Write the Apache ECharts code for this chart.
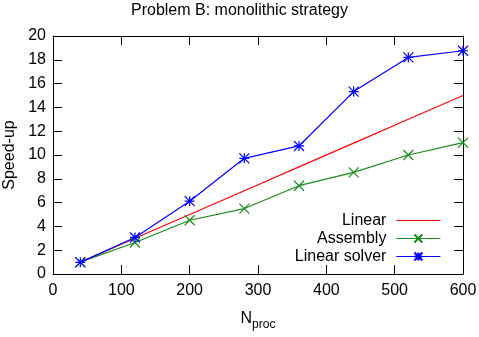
<!DOCTYPE html>
<html><head><meta charset="utf-8">
<script src="https://cdn.jsdelivr.net/npm/echarts@6/dist/echarts.min.js"></script>
<style>html,body{margin:0;padding:0;background:#fff}#c{width:479px;height:337px}</style>
</head><body><div id="c"></div>
<script>
const procs = [40, 120, 200, 280, 360, 440, 520, 600];
const linear = [1, 3, 5, 7, 9, 11, 13, 15];
const assembly = [1.0, 2.65, 4.52, 5.5, 7.42, 8.54, 10.0, 11.04];
const linearSolver = [0.98, 3.07, 6.12, 9.72, 10.76, 15.33, 18.2, 18.76];
const xTicks = [0, 100, 200, 300, 400, 500, 600];
const yTicks = [0, 2, 4, 6, 8, 10, 12, 14, 16, 18, 20];

const FONT = 'Liberation Sans, Arial, sans-serif';
const FS = 16;
const crossPath = 'path://M0,0L10,10M10,0L0,10';
const starPath = 'path://M0,0L10,10M10,0L0,10M5,0L5,10M0,5L10,5';
const pair = (xs, ys) => xs.map((x, i) => [x, ys[i]]);

const chart = echarts.init(document.getElementById('c'), null, {renderer: 'canvas'});
const axisCommon = {
  axisLine: {show: true, onZero: false, lineStyle: {color: '#000', width: 1}},
  axisTick: {show: true, inside: true, length: 9, lineStyle: {color: '#000', width: 1}},
  splitLine: {show: false}
};
chart.setOption({
  animation: false,
  backgroundColor: '#fff',
  title: {
    text: 'Problem B: monolithic strategy', left: 'center', top: -2,
    textStyle: {fontFamily: FONT, fontSize: FS, fontWeight: 'normal', color: '#000'}
  },
  grid: {left: 53, right: 16, top: 36, bottom: 63, show: false, containLabel: false, outerBoundsMode: 'none'},
  legend: {
    orient: 'vertical', right: 33, top: 207, align: 'right',
    itemWidth: 44, itemHeight: 10, itemGap: 1,
    lineStyle: {width: 1.2},
    textStyle: {fontFamily: FONT, fontSize: FS, color: '#000', padding: [0, 5, 0, 0], lineHeight: 17},
    data: [
      {name: 'Linear', icon: 'path://M0,0h44v1.2h-44z'},
      'Assembly', 'Linear solver'
    ]
  },
  xAxis: [
    Object.assign({
      type: 'value', min: xTicks[0], max: xTicks[xTicks.length - 1], interval: 100, position: 'bottom',
      axisLabel: {fontFamily: FONT, fontSize: FS, color: '#000', margin: 9},
      name: '{n|N}{s|proc}', nameLocation: 'middle', nameGap: 33,
      nameTextStyle: {
        rich: {
          n: {fontFamily: FONT, fontSize: FS, color: '#000'},
          s: {fontFamily: FONT, fontSize: 12, color: '#000', padding: [12, 0, 0, 0]}
        }
      }
    }, axisCommon),
    Object.assign({
      type: 'value', min: xTicks[0], max: xTicks[xTicks.length - 1], interval: 100, position: 'top',
      axisLabel: {show: false}
    }, axisCommon)
  ],
  yAxis: [
    Object.assign({
      type: 'value', min: yTicks[0], max: yTicks[yTicks.length - 1], interval: 2, position: 'left',
      axisLabel: {fontFamily: FONT, fontSize: FS, color: '#000', margin: 7},
      name: 'Speed-up', nameLocation: 'middle', nameGap: 29,
      nameTextStyle: {fontFamily: FONT, fontSize: FS, color: '#000'}
    }, axisCommon),
    Object.assign({
      type: 'value', min: yTicks[0], max: yTicks[yTicks.length - 1], interval: 2, position: 'right',
      axisLabel: {show: false}
    }, axisCommon)
  ],
  series: [
    {
      name: 'Linear', type: 'line', data: pair(procs, linear), showSymbol: false, symbol: 'none',
      color: '#ff0000', lineStyle: {color: '#ff0000', width: 1.2}
    },
    {
      name: 'Assembly', type: 'line', data: pair(procs, assembly),
      symbol: crossPath, symbolSize: 10, color: '#1a8c1a',
      lineStyle: {color: '#1a8c1a', width: 1.2},
      itemStyle: {color: '#1a8c1a', borderColor: '#1a8c1a', borderWidth: 1.2}
    },
    {
      name: 'Linear solver', type: 'line', data: pair(procs, linearSolver),
      symbol: starPath, symbolSize: 10, color: '#0000ff',
      lineStyle: {color: '#0000ff', width: 1.2},
      itemStyle: {color: '#0000ff', borderColor: '#0000ff', borderWidth: 1.2}
    }
  ]
});
</script></body></html>
